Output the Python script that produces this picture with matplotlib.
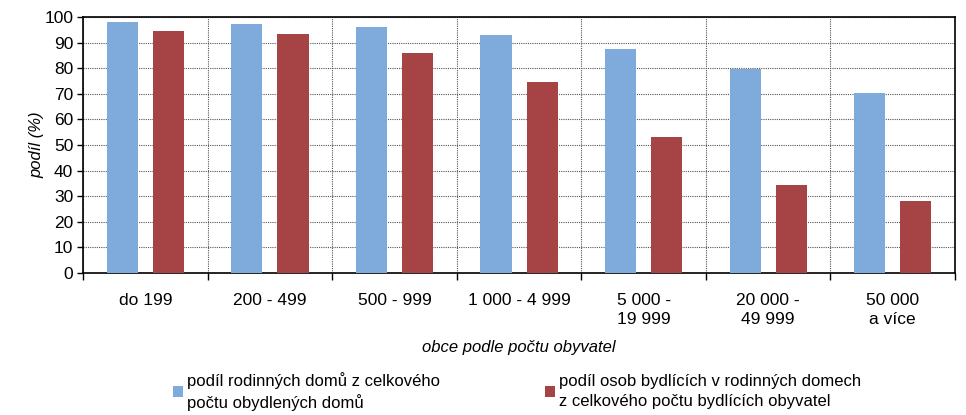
import numpy as np
import matplotlib.pyplot as plt
from matplotlib.ticker import FixedLocator

# Data
categories = ['do 199', '200 - 499', '500 - 999', '1 000 - 4 999',
              '5 000 -\n19 999', '20 000 -\n49 999', '50 000\na více']
domy = [98.0, 97.3, 96.1, 93.0, 87.5, 79.7, 70.3]
osoby = [94.5, 93.4, 85.9, 74.6, 53.1, 34.4, 28.1]
label_domy = 'podíl rodinných domů z celkového\npočtu obydlených domů'
label_osoby = 'podíl osob bydlících v rodinných domech\nz celkového počtu bydlících obyvatel'

plt.rcParams['font.family'] = ['Liberation Sans', 'DejaVu Sans']

fig = plt.figure(figsize=(9.66, 4.15), dpi=100)
ax = fig.add_axes([0.086, 0.342, 0.9026, 0.617])

x = np.arange(len(categories))
ax.bar(x - 0.185, domy, width=0.25, color='#7EABDC', label=label_domy, zorder=3)
ax.bar(x + 0.185, osoby, width=0.25, color='#A64344', label=label_osoby, zorder=3)

ax.set_xlim(-0.5, len(categories) - 0.5)
ax.set_ylim(0, 100)
ax.set_yticks(np.arange(0, 101, 10))
ax.set_xticks(x)
ax.set_xticklabels(categories, fontsize=12.5, linespacing=1.4)
ax.xaxis.set_minor_locator(FixedLocator(np.arange(-0.5, len(categories), 1.0)))
ax.tick_params(axis='x', which='major', length=0, pad=14)
ax.tick_params(axis='x', which='minor', length=5, width=1, direction='out')
ax.tick_params(axis='y', length=4, width=1, labelsize=12.5, pad=3)

ax.grid(axis='y', which='major', color='#555555', linestyle=(0, (1, 1)), linewidth=0.8, zorder=0)
ax.grid(axis='x', which='minor', color='#555555', linestyle=(0, (1, 1)), linewidth=0.8, zorder=0)
for sp in ax.spines.values():
    sp.set_linewidth(1.2)
    sp.set_color('black')

ax.set_ylabel('podíl (%)', fontsize=12, style='italic', labelpad=0)
ax.set_xlabel('obce podle počtu obyvatel', fontsize=12, style='italic', labelpad=9)

fig.legend(loc='lower center', bbox_to_anchor=(0.535, -0.015), ncol=2, frameon=False,
           fontsize=12, handlelength=0.6, handleheight=0.6, handletextpad=0.25,
           columnspacing=6.3, borderaxespad=0.2, labelspacing=0.3)
for t in fig.legends[0].get_texts():
    t.set_linespacing(1.4)

fig.savefig('out.png', dpi=100)
